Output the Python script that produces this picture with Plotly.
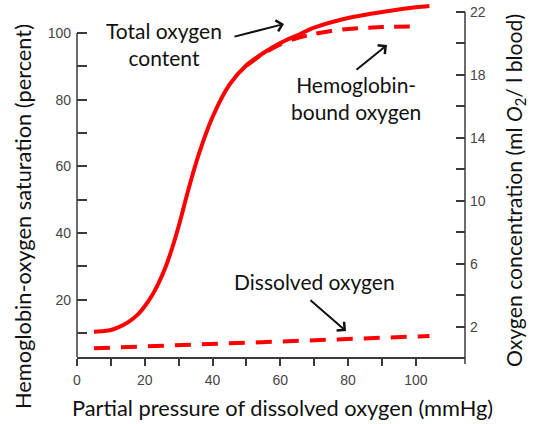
import plotly.graph_objects as go

# ---- data (left-axis units: percent) ----
pressure_total = [5, 8, 10, 12, 15, 18, 20, 22, 24, 26, 28, 30, 33, 36, 40, 45, 50, 55, 60, 65, 70, 80, 90, 100, 104]
total_content = [10.4, 10.6, 10.9, 11.6, 13.2, 15.6, 18.0, 21.0, 24.8, 29.4, 35.2, 42.0, 53.5, 63.8, 74.8, 84.5, 90.3, 94.0, 97.0, 99.3, 101.6, 104.5, 106.3, 107.7, 108.1]

pressure_hb = [50, 55, 60, 65, 70, 75, 80, 90, 100]
hb_bound = [90.2, 93.8, 96.6, 98.5, 99.7, 100.6, 101.2, 101.8, 102.0]

pressure_dissolved = [5, 30, 55, 80, 104]
dissolved = [5.4, 6.3, 7.3, 8.2, 9.1]

x_ticks = [0, 20, 40, 60, 80, 100]
x_minor = [10, 30, 50, 70, 90]
left_ticks = [20, 40, 60, 80, 100]
left_minor = [10, 30, 50, 70, 90]
right_ticks = [2, 6, 10, 14, 18, 22]
right_minor = [4, 8, 12, 16, 20]

# ---- geometry ----
W, H = 536, 424
L, R, T, B = 77, 71, 2, 67
PW, PH = W - L - R, H - T - B
XR = [0, 114.5]
YL = [2.8, 109.3]
YR = [0.095, 22.63]

def P(px, py):
    return (px - L) / PW, (H - B - py) / PH

RED = "#ff0000"
AX = "#3a3a3a"
TXT = "#111111"
TF = "Lato"
TICKF = dict(family="Liberation Sans, Arial", size=14, color="#444444")

fig = go.Figure()
fig.add_trace(go.Scatter(x=pressure_total, y=total_content, mode="lines",
                         line=dict(color=RED, width=4, shape="spline", smoothing=0.8),
                         showlegend=False, hoverinfo="skip"))
fig.add_trace(go.Scatter(x=pressure_hb, y=hb_bound, mode="lines",
                         line=dict(color=RED, width=4, dash="16px,10px", shape="spline", smoothing=0.6),
                         showlegend=False, hoverinfo="skip"))
fig.add_trace(go.Scatter(x=pressure_dissolved, y=dissolved, mode="lines",
                         line=dict(color=RED, width=4, dash="16px,11px"),
                         showlegend=False, hoverinfo="skip"))
# invisible trace to activate right axis
fig.add_trace(go.Scatter(x=[None], y=[None], yaxis="y2", showlegend=False))

fig.update_layout(
    width=W, height=H,
    margin=dict(l=L, r=R, t=T, b=B, pad=0),
    paper_bgcolor="white", plot_bgcolor="white",
    xaxis=dict(range=XR, tickvals=x_ticks, ticks="outside", ticklen=7, tickwidth=1.5,
               tickcolor=AX, showline=True, linecolor=AX, linewidth=1.5, showgrid=False,
               zeroline=False, tickfont=TICKF, ticklabelstandoff=2,
               minor=dict(tickvals=x_minor, ticks="outside", ticklen=7, tickwidth=1.5, tickcolor=AX)),
    yaxis=dict(range=YL, tickvals=left_ticks, ticks="inside", ticklen=10, tickwidth=1.5,
               tickcolor=AX, showline=False, showgrid=False, zeroline=False, tickfont=TICKF,
               ticklabelstandoff=5,
               minor=dict(tickvals=left_minor, ticks="inside", ticklen=10, tickwidth=1.5, tickcolor=AX)),
    yaxis2=dict(range=YR, overlaying="y", side="right", tickvals=right_ticks, ticks="inside",
                ticklen=9, tickwidth=1.5, tickcolor=AX, showline=False, showgrid=False,
                zeroline=False, tickfont=TICKF, ticklabelstandoff=4,
                minor=dict(tickvals=right_minor, ticks="inside", ticklen=9, tickwidth=1.5, tickcolor=AX)),
    showlegend=False,
)

# axis lines
fig.add_shape(type="line", xref="paper", yref="y", x0=0, x1=0, y0=YL[0], y1=100,
              line=dict(color=AX, width=1.5))
fig.add_shape(type="line", xref="paper", yref="y2", x0=1, x1=1, y0=YR[0], y1=22,
              line=dict(color=AX, width=1.5))
fig.add_shape(type="line", xref="paper", yref="paper", x0=1, x1=1, y0=0, y1=-7 / PH,
              line=dict(color=AX, width=1.5))

def text(s, px, py, size=21, angle=0):
    x, y = P(px, py)
    fig.add_annotation(text=s, x=x, y=y, xref="paper", yref="paper", showarrow=False,
                       xanchor="center", yanchor="middle", textangle=angle,
                       font=dict(family=TF, size=size, color=TXT))

def arrow(hx, hy, tx, ty):
    x, y = P(hx, hy)
    fig.add_annotation(text="", x=x, y=y, xref="paper", yref="paper", showarrow=True,
                       ax=tx - hx, ay=ty - hy, axref="pixel", ayref="pixel",
                       arrowhead=4, arrowsize=1.1, arrowwidth=2, arrowcolor=TXT)

text("Total oxygen<br>content", 164, 44)
text("Hemoglobin-<br>bound oxygen", 356, 98)
text("Dissolved oxygen", 314, 281)
arrow(284, 24, 233, 37)
arrow(387, 45, 355, 71)
arrow(346, 331, 309, 299)

text("Partial pressure of dissolved oxygen (mmHg)", 282, 407, size=21.8)
text("Hemoglobin-oxygen saturation (percent)", 22, 217, size=21.8, angle=-90)
text("Oxygen concentration (ml <i>O</i><sub>2</sub>/ l blood)", 515, 191, size=21.2, angle=-90)

fig.write_html("out.html", config={"displayModeBar": False},
               post_script="document.body.style.margin='0px';")
